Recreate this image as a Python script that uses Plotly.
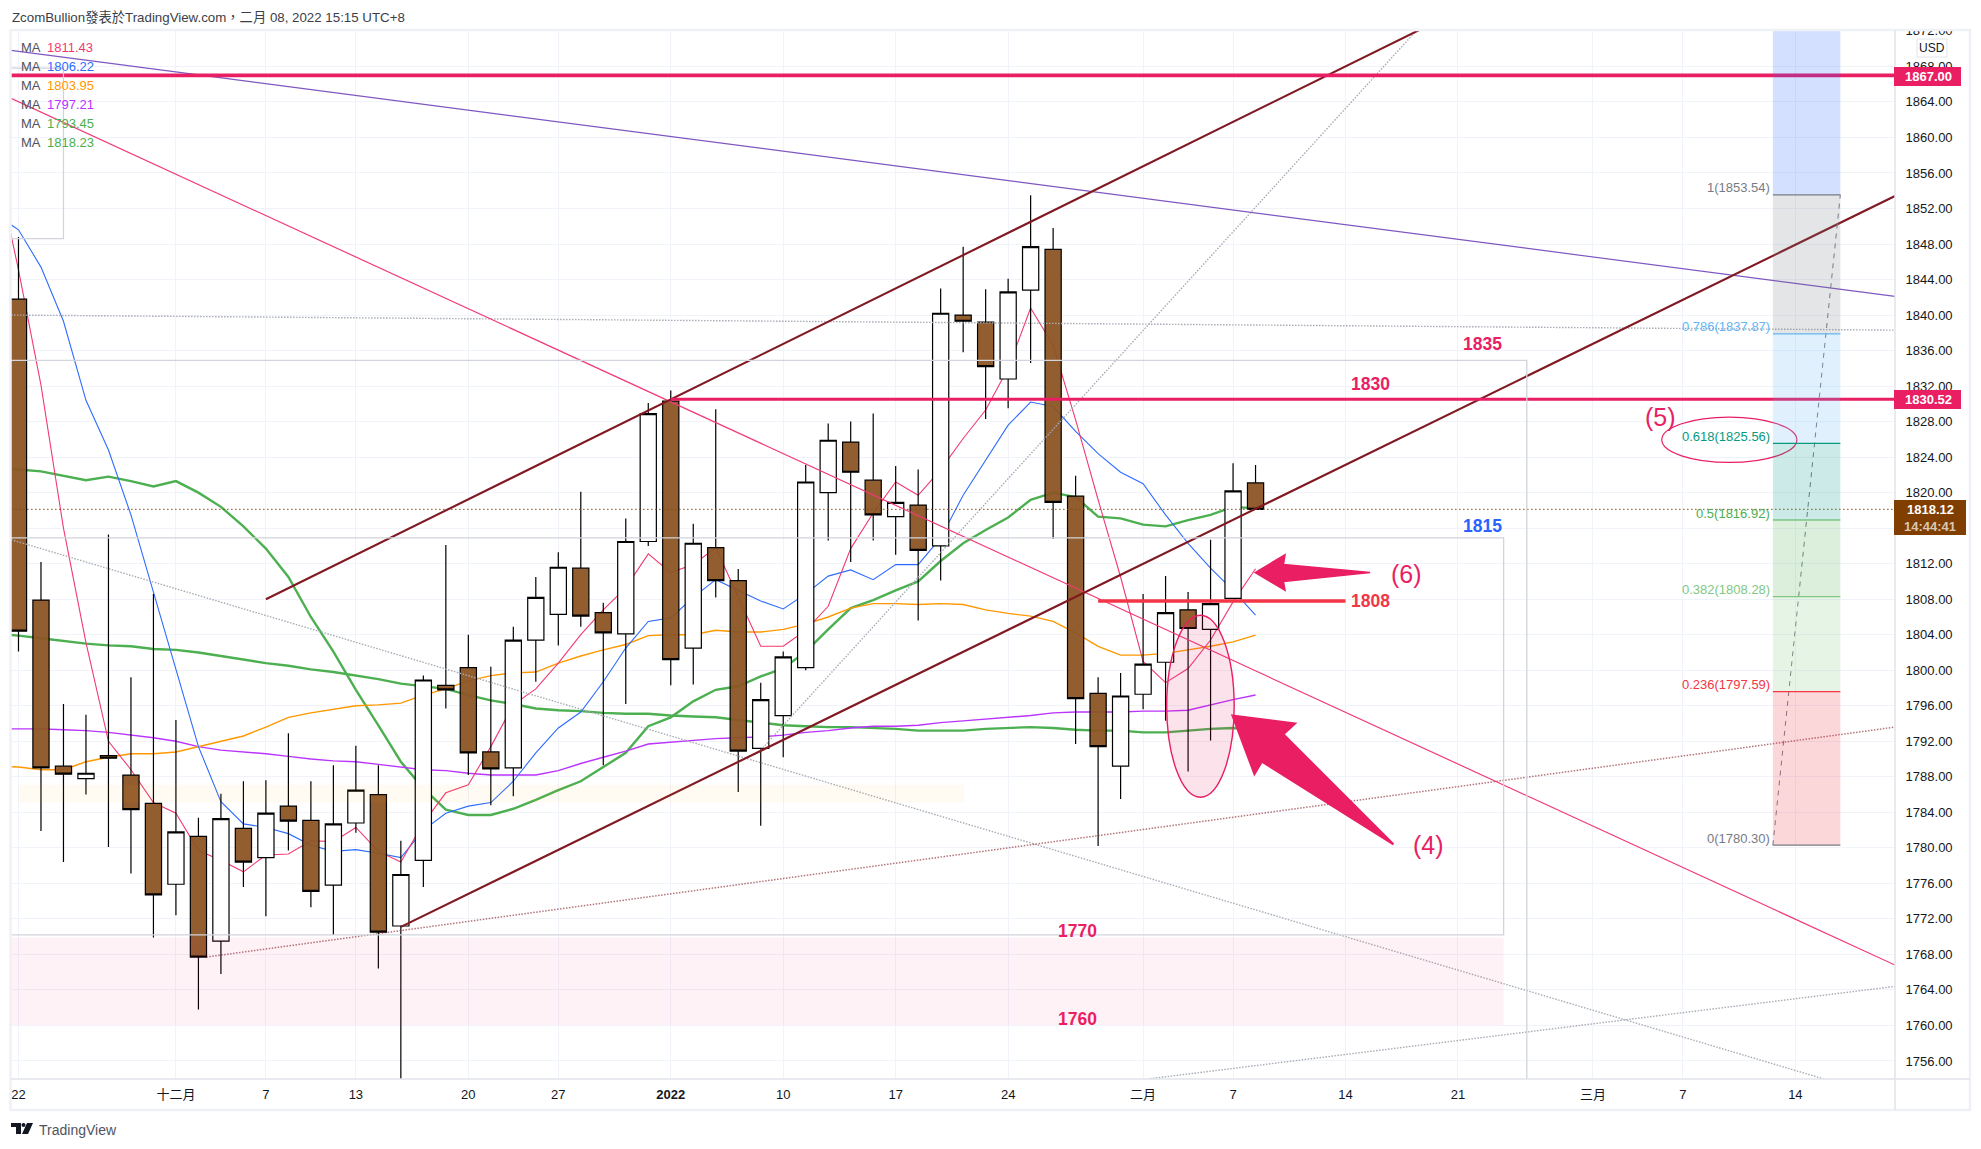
import plotly.graph_objects as go

WIDTH, HEIGHT = 1981, 1149
LEFT, RIGHT, TOP, BOTTOM = 11, 1895, 30, 1079
X_RANGE = [-0.333, 83.43]
Y_RANGE = [1753.97, 1872.1]

FONT = "Liberation Sans, Noto Sans CJK TC, sans-serif"
PINK = "#e91e63"
DARK_RED = "#801922"
GRAY_DOT = "#a8abb5"
FRAME = "#d1d4dc"
FINE_DOT = "1.5px,1.5px"

# daily gold candles, bar index = position in the list
opens = [1841.8, 1807.9, 1789.2, 1787.8, 1790.4, 1788.2, 1785.0, 1775.9, 1781.3, 1769.5,
         1782.2, 1778.9, 1784.7, 1783.1, 1775.8, 1782.8, 1786.0, 1771.2, 1778.6, 1798.3,
         1800.3, 1790.8, 1789.0, 1803.4, 1806.3, 1811.5, 1806.5, 1804.1, 1814.5, 1830.3,
         1802.5, 1813.8, 1810.1, 1791.2, 1794.9, 1800.3, 1820.0, 1825.7, 1821.4, 1817.3,
         1818.6, 1814.0, 1840.0, 1839.2, 1832.8, 1842.8, 1847.4, 1819.6, 1797.4, 1789.2,
         1797.3, 1800.9, 1806.8, 1804.6, 1808.1, 1821.1]
highs = [1848.8, 1812.2, 1796.2, 1795.0, 1815.3, 1799.2, 1808.6, 1794.4, 1783.4, 1786.1,
         1787.5, 1787.6, 1792.9, 1787.5, 1789.3, 1791.5, 1789.3, 1780.8, 1799.4, 1814.1,
         1804.0, 1800.4, 1804.9, 1810.5, 1813.3, 1820.1, 1807.6, 1817.1, 1830.1, 1831.5,
         1816.5, 1829.4, 1811.4, 1798.6, 1802.1, 1823.1, 1827.8, 1828.0, 1828.9, 1823.0,
         1822.6, 1843.0, 1847.7, 1842.9, 1844.1, 1853.5, 1849.8, 1821.9, 1799.2, 1799.7,
         1808.6, 1810.6, 1808.8, 1814.7, 1823.3, 1823.1]
lows = [1802.1, 1781.9, 1778.4, 1786.0, 1780.1, 1777.1, 1769.9, 1772.4, 1761.8, 1765.8,
        1775.6, 1772.3, 1779.7, 1773.3, 1770.2, 1781.7, 1766.4, 1753.5, 1775.6, 1795.7,
        1788.2, 1784.8, 1785.8, 1798.7, 1802.8, 1804.9, 1789.3, 1796.2, 1814.0, 1798.3,
        1798.4, 1808.2, 1786.3, 1782.5, 1790.2, 1800.0, 1814.6, 1812.2, 1814.6, 1813.0,
        1805.6, 1810.1, 1835.8, 1828.3, 1829.5, 1834.6, 1814.8, 1791.7, 1780.2, 1785.5,
        1795.6, 1794.3, 1788.6, 1792.1, 1808.1, 1818.1]
closes = [1804.4, 1789.0, 1788.3, 1788.4, 1790.1, 1784.3, 1774.7, 1781.8, 1767.7, 1783.3,
          1778.4, 1783.9, 1783.0, 1775.1, 1782.7, 1786.5, 1770.5, 1777.0, 1798.9, 1797.8,
          1790.7, 1788.9, 1803.4, 1808.2, 1811.6, 1806.1, 1804.2, 1814.5, 1828.9, 1801.2,
          1814.3, 1810.1, 1790.9, 1796.7, 1801.5, 1821.2, 1825.9, 1822.3, 1817.5, 1818.9,
          1813.5, 1840.2, 1839.3, 1834.2, 1842.6, 1847.7, 1818.9, 1796.8, 1791.4, 1797.1,
          1800.7, 1806.5, 1804.7, 1807.5, 1820.2, 1818.12]

# moving averages, first value belongs to the bar just off the left edge
ma_pink = [1856.9, 1845.1, 1832.1, 1816.0, 1803.1, 1792.0, 1788.8, 1785.1, 1783.9, 1779.7, 1778.6,
           1777.3, 1779.2, 1779.3, 1780.8, 1780.7, 1782.3, 1779.6, 1778.4, 1782.8, 1786.2,
           1787.1, 1791.4, 1796.1, 1797.9, 1800.8, 1804.0, 1806.8, 1809.3, 1813.1, 1811.0,
           1811.9, 1813.8, 1808.3, 1802.7, 1802.7, 1804.5, 1807.2, 1813.7, 1817.7, 1821.2,
           1819.7, 1822.6, 1826.1, 1829.3, 1834.0, 1840.8, 1836.6, 1828.2, 1819.2, 1810.5,
           1801.0, 1798.6, 1800.2, 1803.4, 1807.7, 1811.43]
ma_blue = [1851.3, 1849.6, 1845.4, 1839.3, 1830.4, 1824.8, 1817.5, 1808.8, 1800.4, 1791.4, 1785.2,
           1782.7, 1782.3, 1781.6, 1780.3, 1779.6, 1779.8, 1779.4, 1778.9, 1782.0, 1783.9,
           1784.7, 1785.1, 1787.5, 1790.7, 1793.5, 1795.3, 1798.7, 1802.5, 1805.5, 1805.9,
           1808.2, 1810.2, 1809.0, 1807.8, 1806.9, 1808.6, 1810.6, 1811.3, 1810.2, 1811.9,
           1811.9, 1814.9, 1819.7, 1823.7, 1827.6, 1830.2, 1829.7, 1826.9, 1824.4, 1822.3,
           1821.0, 1817.5, 1814.3, 1811.5, 1809.0, 1806.22]
ma_orange = [1789.2, 1789.1, 1788.8, 1788.8, 1789.7, 1790.2, 1790.6, 1790.6, 1790.8, 1791.4, 1792.0,
             1792.6, 1793.6, 1794.7, 1795.2, 1795.6, 1796.0, 1796.1, 1796.3, 1797.2, 1797.9,
             1798.8, 1799.4, 1799.7, 1799.8, 1800.8, 1801.6, 1802.3, 1802.9, 1803.9, 1804.0,
             1804.0, 1804.5, 1804.3, 1804.3, 1804.6, 1805.2, 1806.0, 1807.0, 1807.5, 1807.5,
             1807.4, 1807.5, 1807.4, 1806.8, 1806.4, 1806.1, 1805.5, 1804.2, 1802.7, 1801.7,
             1801.7, 1801.9, 1802.3, 1802.7, 1803.2, 1803.95]
ma_purple = [1793.4, 1793.4, 1793.4, 1793.3, 1793.2, 1793.0, 1792.7, 1792.4, 1792.0, 1791.4, 1791.0,
             1790.8, 1790.6, 1790.3, 1790.0, 1789.8, 1789.7, 1789.4, 1789.1, 1788.8, 1788.7,
             1788.4, 1788.2, 1788.2, 1788.2, 1788.7, 1789.5, 1790.2, 1790.9, 1791.7, 1791.9,
             1792.1, 1792.3, 1792.4, 1792.5, 1792.7, 1793.0, 1793.2, 1793.5, 1793.7, 1793.7,
             1793.8, 1794.1, 1794.3, 1794.5, 1794.7, 1794.9, 1795.2, 1795.3, 1795.3, 1795.3,
             1795.4, 1795.4, 1795.5, 1796.1, 1796.7, 1797.21]
ma_green_long = [1804.1, 1803.9, 1803.6, 1803.3, 1803.0, 1802.8, 1802.7, 1802.4, 1802.3, 1802.0, 1801.6,
                 1801.2, 1800.8, 1800.5, 1800.1, 1799.8, 1799.4, 1799.0, 1798.5, 1798.2, 1797.9,
                 1797.2, 1796.6, 1796.2, 1795.7, 1795.5, 1795.4, 1795.2, 1795.1, 1795.1, 1794.9,
                 1794.8, 1794.7, 1794.4, 1794.1, 1793.8, 1793.7, 1793.6, 1793.6, 1793.5, 1793.4,
                 1793.2, 1793.2, 1793.2, 1793.4, 1793.5, 1793.6, 1793.5, 1793.3, 1793.2, 1793.2,
                 1793.0, 1793.0, 1793.2, 1793.4, 1793.5, 1793.45]
ma_green_mid = [1822.6, 1822.6, 1822.4, 1821.9, 1821.4, 1821.8, 1821.3, 1820.7, 1821.3, 1820.0, 1818.4,
                1816.2, 1813.7, 1810.5, 1806.0, 1802.1, 1797.8, 1793.8, 1789.7, 1786.7, 1784.3,
                1783.7, 1783.7, 1784.4, 1785.4, 1786.5, 1787.5, 1789.1, 1790.7, 1793.7, 1794.7,
                1796.5, 1797.8, 1798.2, 1799.3, 1800.2, 1802.1, 1804.6, 1807.0, 1807.9, 1809.0,
                1810.0, 1812.3, 1814.3, 1815.8, 1817.2, 1819.2, 1820.0, 1819.5, 1817.3, 1817.1,
                1816.4, 1816.2, 1816.9, 1817.5, 1818.4, 1818.23]

# x axis
tick_bars = [0, 7, 11, 15, 20, 24, 29, 34, 39, 44, 50, 54, 59, 64, 70, 74, 79]
tick_labels = ["22", "十二月", "7", "13", "20", "27", "<b>2022</b>", "10", "17", "24",
               "二月", "7", "14", "21", "三月", "7", "14"]

# legend of the moving averages
ma_values = ["1811.43", "1806.22", "1803.95", "1797.21", "1793.45", "1818.23"]
ma_colors = ["#f23a70", "#2e6cff", "#ff9800", "#bb33ff", "#4caf50", "#4caf50"]

# fibonacci retracement
fib_ratios = ["1", "0.786", "0.618", "0.5", "0.382", "0.236", "0"]
fib_prices = [1853.54, 1837.87, 1825.56, 1816.92, 1808.28, 1797.59, 1780.30]
fib_colors = ["#787b86", "#64b5f6", "#089981", "#4caf50", "#81c784", "#f23645", "#787b86"]
fib_fills = ["rgba(120,123,134,0.2)", "rgba(100,181,246,0.2)", "rgba(0,150,136,0.2)",
             "rgba(76,175,80,0.2)", "rgba(129,199,132,0.2)", "rgba(242,54,69,0.2)"]
fib_left, fib_right = 78.0, 81.0

# hand drawn lines: (x0, y0, x1, y1, colour, width, dash)
trend_lines = [
    (-0.33, 1840.0, 83.43, 1838.3, GRAY_DOT, 1.4, FINE_DOT),
    (-0.33, 1814.7, 80.5, 1753.8, GRAY_DOT, 1.4, FINE_DOT),
    (33.0, 1791.0, 62.5, 1873.0, GRAY_DOT, 1.4, FINE_DOT),
    (50.3, 1754.0, 83.43, 1764.4, GRAY_DOT, 1.4, FINE_DOT),
    (8.35, 1767.7, 83.43, 1793.6, "rgba(128,25,34,0.6)", 1.5, FINE_DOT),
    (-0.33, 1818.12, 83.43, 1818.12, "#854a16", 1.0, "1.5px,2.5px"),
    (-0.33, 1869.8, 83.43, 1842.1, "#7e57c2", 1.2, "solid"),
    (-0.33, 1864.4, 83.43, 1766.8, "#f23a78", 1.2, "solid"),
    (11.0, 1808.0, 63.0, 1873.0, DARK_RED, 2.1, "solid"),
    (17.0, 1771.1, 83.43, 1853.4, DARK_RED, 2.1, "solid"),
    (-0.33, 1867.0, 83.43, 1867.0, PINK, 3.8, "solid"),
    (29.0, 1830.52, 83.43, 1830.52, PINK, 3.2, "solid"),
    (48.0, 1807.8, 59.0, 1807.8, "#f23645", 3.6, "solid"),
    (fib_left, 1780.30, fib_right, 1853.54, "#787b86", 1.0, "5px,5px"),
]

# arrows, as outline points (bar, price)
arrow_six = [(54.98, 1811.0), (56.31, 1813.0), (56.24, 1811.9), (60.09, 1811.0),
             (56.24, 1810.0), (56.31, 1809.0)]
arrow_four = [(53.97, 1794.9), (56.76, 1794.0), (56.24, 1792.8), (61.13, 1780.4),
              (55.28, 1789.7), (54.95, 1788.3)]

# text written on the chart: (bar, price, text, colour, size)
chart_notes = [
    (65.1, 1836.7, "<b>1835</b>", PINK, 17.5),
    (60.1, 1832.2, "<b>1830</b>", PINK, 17.5),
    (65.1, 1816.2, "<b>1815</b>", "#2962ff", 17.5),
    (60.1, 1807.8, "<b>1808</b>", "#f23645", 17.5),
    (47.1, 1770.6, "<b>1770</b>", PINK, 17.5),
    (47.1, 1760.7, "<b>1760</b>", PINK, 17.5),
    (61.7, 1810.8, "(6)", PINK, 25),
    (62.7, 1780.3, "(4)", PINK, 25),
    (73.0, 1828.5, "(5)", PINK, 25),
]


def px_x(x):
    return (x - LEFT) / (RIGHT - LEFT)


def px_y(y):
    return (BOTTOM - y) / (BOTTOM - TOP)


def polygon_path(points):
    return "M " + " L ".join(f"{x} {y}" for x, y in points) + " Z"


def px_rect(x0, y0, x1, y1, **kwargs):
    return dict(type="rect", xref="paper", yref="paper", x0=px_x(x0), x1=px_x(x1),
                y0=px_y(y0), y1=px_y(y1), **kwargs)


def px_note(x, y, text, size=13, color="#131722", anchor="left"):
    return dict(xref="paper", yref="paper", x=px_x(x), y=px_y(y), text=text, showarrow=False,
                xanchor=anchor, yanchor="middle", borderpad=0, font=dict(size=size, color=color))


bars = list(range(len(closes)))
ma_bars = list(range(-1, len(closes)))
fig = go.Figure()

# moving averages sit on the main axes so the candles cover them
for values, color, width in [(ma_green_long, "#4caf50", 2.4), (ma_green_mid, "#4caf50", 2.4),
                             (ma_purple, "#bb33ff", 1.4), (ma_orange, "#ff9800", 1.4),
                             (ma_blue, "#2e6cff", 1.1), (ma_pink, "#f23a70", 1.1)]:
    fig.add_trace(go.Scatter(x=ma_bars, y=values, mode="lines", line=dict(color=color, width=width)))

fig.add_trace(go.Candlestick(
    x=bars, open=opens, high=highs, low=lows, close=closes, xaxis="x2", yaxis="y2",
    whiskerwidth=0,
    increasing=dict(fillcolor="#ffffff", line=dict(color="#000000", width=1.2)),
    decreasing=dict(fillcolor="rgba(140,84,36,0.95)", line=dict(color="#000000", width=1.2)),
))

for x0, y0, x1, y1, color, width, dash in trend_lines:
    fig.add_trace(go.Scatter(x=[x0, x1], y=[y0, y1], mode="lines", xaxis="x2", yaxis="y2",
                             line=dict(color=color, width=width, dash=dash)))

shapes = [
    # boxes and zones
    dict(type="rect", x0=-1, x1=67.06, y0=1750, y1=1834.9, line=dict(color=FRAME, width=1.3)),
    dict(type="rect", x0=-1, x1=66.03, y0=1770.2, y1=1814.9, line=dict(color=FRAME, width=1.3)),
    dict(type="rect", x0=-1, x1=2.0, y0=1848.6, y1=1867.8, line=dict(color=FRAME, width=1.2)),
    dict(type="rect", x0=-1, x1=66.03, y0=1760.05, y1=1769.9, fillcolor="rgba(233,30,99,0.06)",
         line=dict(width=0)),
    dict(type="rect", x0=0, x1=42.04, y0=1785.1, y1=1787.1, fillcolor="rgba(255,152,0,0.05)",
         line=dict(width=0)),
    # fib zone above level 1
    dict(type="rect", x0=fib_left, x1=fib_right, y0=fib_prices[0], y1=1875,
         fillcolor="rgba(41,98,255,0.2)", line=dict(width=0)),
    # ellipses and arrows
    dict(type="circle", x0=51.05, x1=54.05, y0=1785.7, y1=1806.2, fillcolor="rgba(233,30,99,0.13)",
         line=dict(color=PINK, width=1.4)),
    dict(type="circle", x0=73.06, x1=79.07, y0=1823.4, y1=1828.5, line=dict(color=PINK, width=1.2)),
    dict(type="path", path=polygon_path(arrow_six), fillcolor=PINK, line=dict(color=PINK, width=1.5)),
    dict(type="path", path=polygon_path(arrow_four), fillcolor=PINK, line=dict(color=PINK, width=2)),
]
for i, fill in enumerate(fib_fills):
    shapes.append(dict(type="rect", x0=fib_left, x1=fib_right, y0=fib_prices[i + 1], y1=fib_prices[i],
                       fillcolor=fill, line=dict(width=0)))
for price, color in zip(fib_prices, fib_colors):
    shapes.append(dict(type="line", x0=fib_left, x1=fib_right, y0=price, y1=price,
                       line=dict(color=color, width=1.2)))
for shape in shapes:
    shape.update(xref="x", yref="y", layer="above")

# page furniture, in page pixels
shapes += [
    px_rect(1896, 0, 1981, 29, fillcolor="#ffffff", line=dict(width=0), layer="above"),
    px_rect(10.5, 30, 1970, 1110, line=dict(color="#f0f1f6", width=2.5), layer="above"),
    dict(type="line", xref="paper", yref="paper", x0=px_x(1895), x1=px_x(1895), y0=px_y(30), y1=px_y(1110),
         line=dict(color="#e0e3eb", width=1.5), layer="above"),
    dict(type="line", xref="paper", yref="paper", x0=px_x(11), x1=px_x(1970), y0=px_y(1079), y1=px_y(1079),
         line=dict(color="#e0e3eb", width=1.5), layer="above"),
    px_rect(1894, 67, 1961, 86, fillcolor=PINK, line=dict(width=0), layer="above"),
    px_rect(1894, 390, 1961, 409, fillcolor=PINK, line=dict(width=0), layer="above"),
    px_rect(1894, 500, 1966, 535, fillcolor="#803e00", line=dict(width=0), layer="above"),
    px_rect(1917, 39, 1947, 57, fillcolor="#ffffff", line=dict(color="#e0e3eb", width=1), layer="above"),
]
# TradingView mark
logo_parts = [
    [(11, 1123), (21, 1123), (21, 1134), (16, 1134), (16, 1127), (11, 1127)],
    [(27, 1123), (33, 1123), (28, 1134), (22, 1134)],
]
for part in logo_parts:
    shapes.append(dict(type="path", xref="paper", yref="paper", layer="above", fillcolor="#131722",
                       line=dict(width=0),
                       path=polygon_path([(px_x(x), px_y(y)) for x, y in part])))
shapes.append(dict(type="circle", xref="paper", yref="paper", layer="above", fillcolor="#131722",
                   line=dict(width=0), x0=px_x(21.5), x1=px_x(25.5), y0=px_y(1127), y1=px_y(1123)))

annotations = [
    px_note(10.5, 17, "ZcomBullion發表於TradingView.com，二月 08, 2022 15:15 UTC+8", size=13.3, color="#3b3e47"),
    px_note(38, 1130, "TradingView", size=14, color="#50535e"),
    px_note(1928, 76.5, "<b>1867.00</b>", color="#ffffff", anchor="center"),
    px_note(1928, 400, "<b>1830.52</b>", color="#ffffff", anchor="center"),
    px_note(1930, 510, "<b>1818.12</b>", color="#ffffff", anchor="center"),
    px_note(1930, 526, "<b>14:44:41</b>", color="#d9c7b3", anchor="center"),
    px_note(1932, 48, "USD", size=12, anchor="center"),
]
for row, (value, color) in enumerate(zip(ma_values, ma_colors)):
    y_pos = 47.3 + row * 19
    annotations.append(px_note(20, y_pos, "MA", color="#50535e"))
    annotations.append(px_note(46, y_pos, value, color=color))

for ratio, price, color in zip(fib_ratios, fib_prices, fib_colors):
    annotations.append(dict(x=77.95, y=price, xref="x", yref="y", yshift=7, text=f"{ratio}({price:.2f})",
                            showarrow=False, xanchor="right", yanchor="middle",
                            font=dict(size=13, color=color)))
for bar, price, text, color, size in chart_notes:
    annotations.append(dict(x=bar, y=price, xref="x", yref="y", text=text, showarrow=False,
                            font=dict(size=size, color=color)))

fig.update_layout(
    width=WIDTH, height=HEIGHT, autosize=False,
    margin=dict(l=LEFT, r=WIDTH - RIGHT, t=TOP, b=HEIGHT - BOTTOM, pad=0),
    paper_bgcolor="#ffffff", plot_bgcolor="#ffffff",
    font=dict(family=FONT, size=13, color="#131722"),
    showlegend=False, shapes=shapes, annotations=annotations,
    boxmode="overlay", boxgap=0.28, boxgroupgap=0,
    xaxis=dict(range=X_RANGE, tickmode="array", tickvals=tick_bars, ticktext=tick_labels,
               showgrid=True, gridcolor="#f0f3fa", gridwidth=1, zeroline=False, showline=False,
               ticks="outside", ticklen=3, tickcolor="rgba(0,0,0,0)"),
    yaxis=dict(range=Y_RANGE, side="right", dtick=4, tick0=1756, tickformat=".2f",
               showgrid=True, gridcolor="#f0f3fa", gridwidth=1, zeroline=False, showline=False,
               ticks="outside", ticklen=7, tickcolor="rgba(0,0,0,0)"),
    xaxis2=dict(range=X_RANGE, overlaying="x", anchor="y2", visible=False,
                rangeslider=dict(visible=False)),
    yaxis2=dict(range=Y_RANGE, overlaying="y", anchor="x2", side="right", visible=False),
)

fig.write_html("out.html", config=dict(displayModeBar=False),
               post_script="document.body.style.margin='0';")
